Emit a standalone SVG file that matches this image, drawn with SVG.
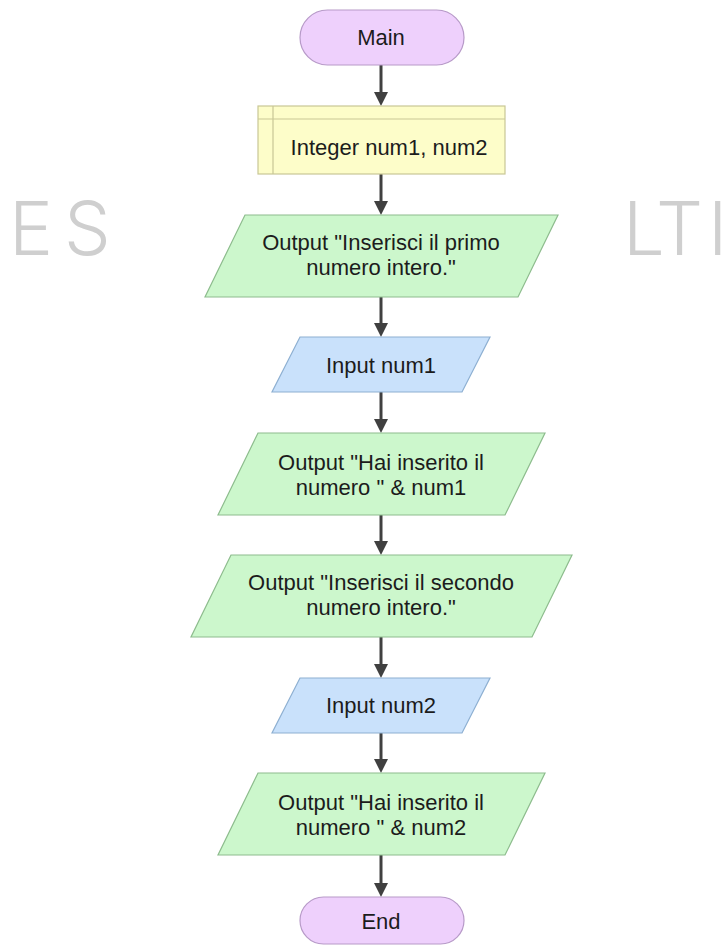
<svg xmlns="http://www.w3.org/2000/svg" width="721" height="946" viewBox="0 0 721 946">
<style>
.wm{font-family:Inter,"Open Sans","Liberation Sans",sans-serif;font-weight:300;font-size:74px;fill:#cfcfcf}
.t{font-family:"Liberation Sans",Arial,sans-serif;font-size:22px;fill:#1c1c1c;text-anchor:middle}
.term{fill:#eed0fc;stroke:#b79ac8;stroke-width:1.2}
.decl{fill:#fdfdc9;stroke:#c9c796;stroke-width:1.2}
.out{fill:#ccf7cc;stroke:#8dbc8d;stroke-width:1.2}
.in{fill:#c9e1fb;stroke:#8eb0d2;stroke-width:1.2}
.c{fill:none;stroke:#404040;stroke-width:3}
</style>
<defs>
<marker id="ah" markerUnits="userSpaceOnUse" markerWidth="14" markerHeight="14" refX="0" refY="7" orient="auto">
<path d="M0,0 L14,7 L0,14 z" fill="#404040"/>
</marker>
</defs>
<rect width="721" height="946" fill="#ffffff"/>
<g id="watermark">
<text class="wm" x="9 64" y="255">ES</text>
<text class="wm" x="623 656 708" y="255">LTI</text>
</g>
<g id="connectors">
<path class="c" d="M381,65 V92" marker-end="url(#ah)"/>
<path class="c" d="M381,174 V201" marker-end="url(#ah)"/>
<path class="c" d="M381,297 V323" marker-end="url(#ah)"/>
<path class="c" d="M381,392 V419" marker-end="url(#ah)"/>
<path class="c" d="M381,515 V541" marker-end="url(#ah)"/>
<path class="c" d="M381,637 V664" marker-end="url(#ah)"/>
<path class="c" d="M381,733 V759" marker-end="url(#ah)"/>
<path class="c" d="M381,855 V883" marker-end="url(#ah)"/>
</g>
<g id="main">
<rect class="term" x="300" y="10" width="164" height="55" rx="27.5"/>
<text class="t" x="381" y="45">Main</text>
</g>
<g id="declare">
<rect class="decl" x="258" y="106" width="247" height="68"/>
<path d="M258,119 H505 M273,106 V174" fill="none" stroke="#c9c796" stroke-width="1.2"/>
<text class="t" x="389" y="155">Integer num1, num2</text>
</g>
<g id="output1">
<polygon class="out" points="245,215 558,215 518,297 205,297"/>
<text class="t" x="381" y="250">Output "Inserisci il primo</text>
<text class="t" x="381" y="275">numero intero."</text>
</g>
<g id="input1">
<polygon class="in" points="300,337 490,337 462,392 272,392"/>
<text class="t" x="381" y="373">Input num1</text>
</g>
<g id="output2">
<polygon class="out" points="258,433 545,433 505,515 218,515"/>
<text class="t" x="381" y="470">Output "Hai inserito il</text>
<text class="t" x="381" y="495">numero " &amp; num1</text>
</g>
<g id="output3">
<polygon class="out" points="231,555 572,555 532,637 191,637"/>
<text class="t" x="381" y="590">Output "Inserisci il secondo</text>
<text class="t" x="381" y="615">numero intero."</text>
</g>
<g id="input2">
<polygon class="in" points="300,678 490,678 462,733 272,733"/>
<text class="t" x="381" y="713">Input num2</text>
</g>
<g id="output4">
<polygon class="out" points="258,773 545,773 505,855 218,855"/>
<text class="t" x="381" y="810">Output "Hai inserito il</text>
<text class="t" x="381" y="835">numero " &amp; num2</text>
</g>
<g id="end">
<rect class="term" x="300" y="897" width="164" height="47" rx="23.5"/>
<text class="t" x="381" y="929">End</text>
</g>
</svg>
